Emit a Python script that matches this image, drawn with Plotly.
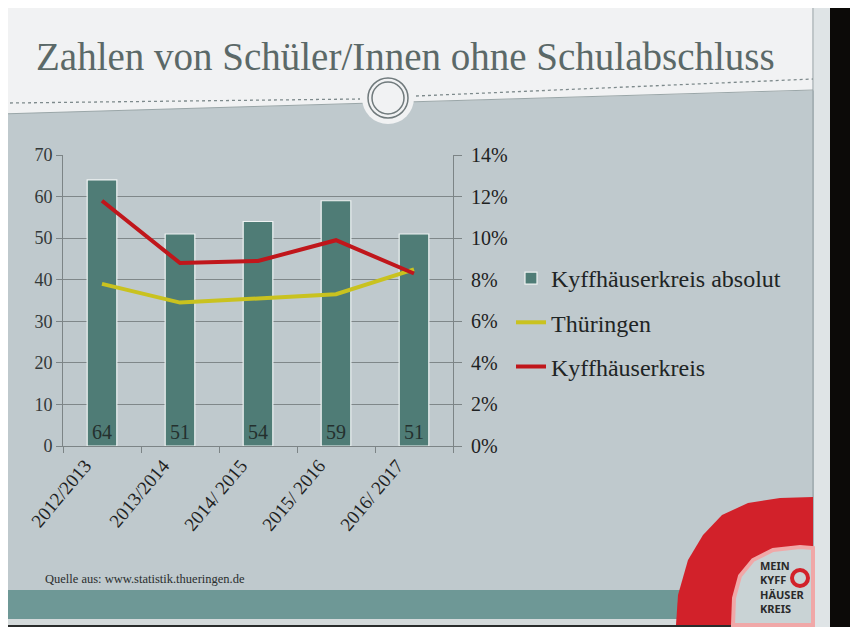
import plotly.graph_objects as go

categories = ["2012/2013", "2013/2014", "2014/ 2015", "2015/ 2016", "2016/ 2017"]
absolut = [64, 51, 54, 59, 51]
thueringen = [0.078, 0.069, 0.071, 0.073, 0.085]
kyff_pct = [0.118, 0.088, 0.089, 0.099, 0.083]
left_ticks = [0, 10, 20, 30, 40, 50, 60, 70]
right_ticks = [0, 0.02, 0.04, 0.06, 0.08, 0.10, 0.12, 0.14]

OFF = 8  # page body offset
W, H = 858, 635
FW, FH = W - 2 * OFF, H - 2 * OFF
L, R, T, B = 63, 453, 155, 446
PW, PH = R - L, B - T


def px(x):
    return (x - L) / PW


def py(y):
    return (B - y) / PH


SERIF = "Liberation Serif"

fig = go.Figure()
fig.add_trace(go.Bar(
    x=categories, y=absolut, name="Kyffhäuserkreis absolut",
    marker=dict(color="#4f7c76", line=dict(color="#eef2f2", width=1.2)),
    text=[str(v) for v in absolut], textposition="inside",
    insidetextanchor="start",
    textfont=dict(family=SERIF, size=20, color="#24302e"),
    legendgroup="a", yaxis="y"))
fig.add_trace(go.Scatter(
    x=categories, y=thueringen, name="Thüringen", mode="lines",
    line=dict(color="#c9c21f", width=4), legendgroup="b", yaxis="y2"))
fig.add_trace(go.Scatter(
    x=categories, y=kyff_pct, name="Kyffhäuserkreis", mode="lines",
    line=dict(color="#c0161b", width=4), legendgroup="c", yaxis="y2"))

shapes = []


def rect(x0, y0, x1, y1, color):
    shapes.append(dict(type="rect", xref="paper", yref="paper", x0=px(x0), x1=px(x1),
                       y0=py(y0), y1=py(y1), fillcolor=color,
                       line=dict(width=0), layer="below"))


def path(points, close=True):
    s = "M {} {}".format(px(points[0][0]), py(points[0][1]))
    for (x, y) in points[1:]:
        s += " L {} {}".format(px(x), py(y))
    return s + (" Z" if close else "")


def line(x0, y0, x1, y1, color, width=1, dash="solid"):
    shapes.append(dict(type="line", xref="paper", yref="paper", x0=px(x0), x1=px(x1),
                       y0=py(y0), y1=py(y1), line=dict(color=color, width=width, dash=dash),
                       layer="below"))


# header (slightly tilted as in the photo)
shapes.append(dict(type="path", xref="paper", yref="paper",
                   path=path([(0, 0), (830, 0), (830, 90), (0, 114)]),
                   fillcolor="#f1f2f3", line=dict(width=0), layer="below"))
line(0, 114, 813, 90, "#9aa6a8", 1)
line(10, 103, 360, 99, "#7e8a8c", 1.3, "dot")
line(416, 96, 813, 79, "#7e8a8c", 1.3, "dot")
shapes.append(dict(type="circle", xref="paper", yref="paper", x0=px(362), x1=px(414),
                   y0=py(72), y1=py(124), fillcolor="#f1f2f3", line=dict(width=0), layer="below"))
shapes.append(dict(type="circle", xref="paper", yref="paper", x0=px(368), x1=px(408),
                   y0=py(78), y1=py(118), fillcolor="rgba(0,0,0,0)", line=dict(color="#707a7c", width=1.5), layer="below"))
shapes.append(dict(type="circle", xref="paper", yref="paper", x0=px(372), x1=px(404),
                   y0=py(82), y1=py(114), fillcolor="rgba(0,0,0,0)", line=dict(color="#707a7c", width=1.5), layer="below"))
# bottom bands
rect(0, 590, 830, 619, "#6e9896")
rect(0, 619, 830, 625, "#d4dadb")
rect(0, 625, W, H, "#2a2c2c")
# right edge of slide
rect(814, 0, 830, H, "#dfe4e6")
line(813, 0, 813, 625, "#8e9a9e", 1)
rect(830, 0, W, H, "#0c0a08")

red_blob = [(676, 625), (678, 595), (688, 560), (703, 535), (722, 515), (748, 503),
            (780, 498), (813, 497), (813, 625)]
shapes.append(dict(type="path", xref="paper", yref="paper", path=path(red_blob),
                   fillcolor="#d2212a", line=dict(width=0), layer="below"))
inner = [(733, 625), (734, 598), (740, 576), (753, 560), (773, 550), (800, 547),
         (813, 548), (813, 625)]
shapes.append(dict(type="path", xref="paper", yref="paper", path=path(inner),
                   fillcolor="#c9d3d5", line=dict(color="#f0a8a8", width=4), layer="below"))
shapes.append(dict(type="circle", xref="paper", yref="paper", x0=px(792), x1=px(808),
                   y0=py(570), y1=py(586), fillcolor="rgba(0,0,0,0)", line=dict(color="#d2212a", width=4), layer="below"))

annotations = [
    dict(text="Zahlen von Schüler/Innen ohne Schulabschluss", xref="paper", yref="paper",
         x=px(405), y=py(56), xanchor="center", yanchor="middle", showarrow=False,
         font=dict(family=SERIF, size=39, color="#5b6968")),
    dict(text="Quelle aus: www.statistik.thueringen.de", xref="paper", yref="paper",
         x=px(43), y=py(579), xanchor="left", yanchor="middle", showarrow=False,
         font=dict(family=SERIF, size=12.5, color="#2a2e2e")),
    dict(text="<b>MEIN<br>KYFF<br>HÄUSER<br>KREIS</b>", xref="paper", yref="paper",
         x=px(758), y=py(587), xanchor="left", yanchor="middle", showarrow=False, align="left",
         font=dict(family="Noto Sans", size=11, color="#2a2a2a")),
]

fig.update_layout(
    width=FW, height=FH,
    margin=dict(l=L - OFF, r=FW - (R - OFF), t=T - OFF, b=FH - (B - OFF), pad=0),
    paper_bgcolor="#bfc9cd", plot_bgcolor="rgba(0,0,0,0)",
    bargap=0.62,
    showlegend=True,
    legend=dict(x=px(511), y=py(256), xanchor="left", yanchor="top",
                bgcolor="rgba(0,0,0,0)", font=dict(family=SERIF, size=24, color="#1e2424"),
                tracegroupgap=10, itemwidth=30),
    xaxis=dict(type="category", tickangle=-50, tickson="boundaries", ticks="outside",
               ticklen=6, tickcolor="#7c8486", showline=True, linecolor="#7c8486",
               showgrid=False, automargin=False, ticklabelshift=-17,
               tickfont=dict(family=SERIF, size=19, color="#1e2222")),
    yaxis=dict(range=[0, 70], tickvals=left_ticks, showgrid=True, gridcolor="#7f8789",
               gridwidth=1, ticks="outside", ticklen=6, tickcolor="#7c8486",
               showline=True, linecolor="#7c8486", zeroline=False, automargin=False,
               tickfont=dict(family=SERIF, size=18, color="#333838")),
    yaxis2=dict(range=[0, 0.14], tickvals=right_ticks, tickformat=".0%", overlaying="y",
                side="right", showgrid=False, ticks="outside", ticklen=8, tickcolor="#7c8486",
                showline=True, linecolor="#7c8486", zeroline=False, automargin=False,
                ticklabelstandoff=5,
                tickfont=dict(family=SERIF, size=20, color="#1e2222")),
    shapes=shapes,
    annotations=annotations,
)

fig.write_html("out.html")
